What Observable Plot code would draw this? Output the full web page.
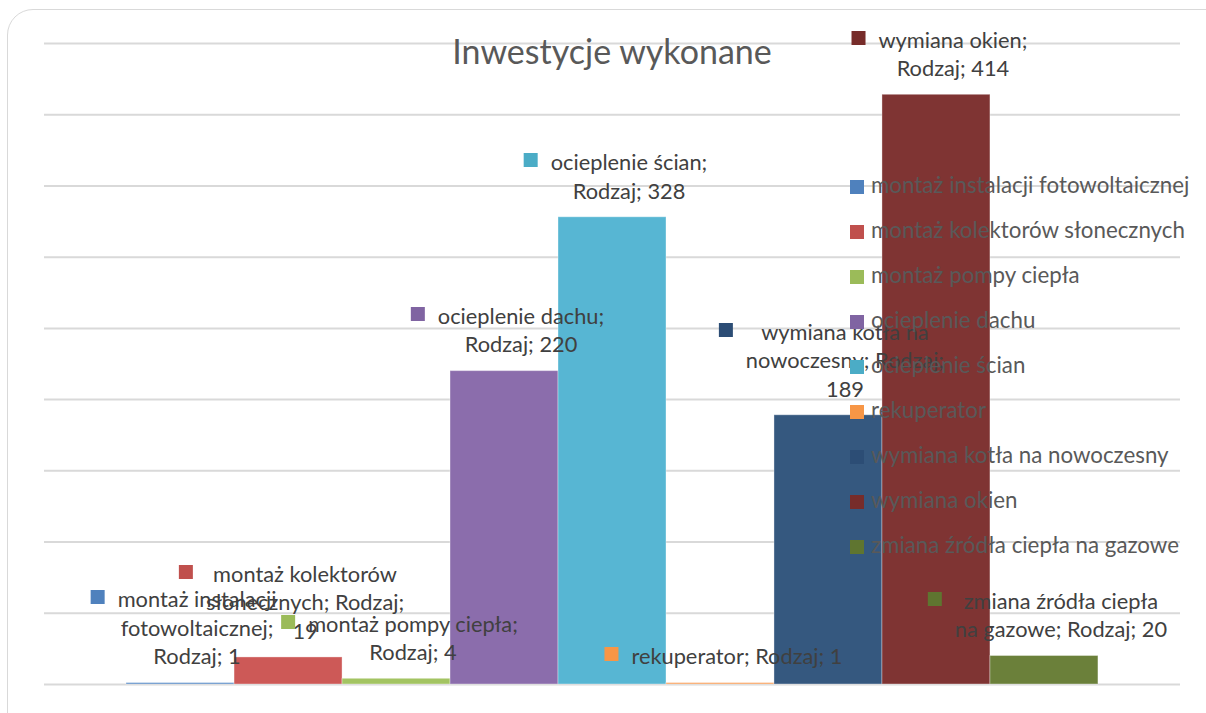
<!DOCTYPE html>
<html><head><meta charset="utf-8">
<script src="https://cdn.jsdelivr.net/npm/d3@7"></script>
<script src="https://cdn.jsdelivr.net/npm/@observablehq/plot@0.6"></script>
<style>
body{margin:0;background:#fff;}
#wrap{position:relative;width:1206px;height:713px;overflow:hidden;font-family:Lato,"Noto Sans",sans-serif;}
#wrap svg{position:absolute;left:0;top:0;}
#border{position:absolute;left:7px;top:9px;width:1240px;height:740px;border:1.5px solid #d9d9d9;border-radius:26px;box-sizing:border-box;pointer-events:none;}
#title{position:absolute;left:0;width:1224px;top:30px;text-align:center;font-size:34px;color:#595959;}
.lbl{position:absolute;transform:translateX(-50%);text-align:center;font-size:21.8px;line-height:28.5px;color:#404040;white-space:nowrap;}
.lbl .mk{position:absolute;width:14px;height:14px;left:-27px;top:5px;}
.leg{position:absolute;left:850px;font-size:22.3px;color:#595959;white-space:nowrap;line-height:24px;}
.leg .mk{display:inline-block;width:14px;height:14px;margin-right:7px;vertical-align:-1px;}
</style>
</head><body>
<div id="wrap"></div>
<script>
const category = "Rodzaj";
const chartTitle = "Inwestycje wykonane";
const series = [
  "montaż instalacji fotowoltaicznej",
  "montaż kolektorów słonecznych",
  "montaż pompy ciepła",
  "ocieplenie dachu",
  "ocieplenie ścian",
  "rekuperator",
  "wymiana kotła na nowoczesny",
  "wymiana okien",
  "zmiana źródła ciepła na gazowe"
];
const values = [1, 19, 4, 220, 328, 1, 189, 414, 20];
const barColors = ["#5b8cc7","#cd5957","#a3c462","#8b6dac","#57b6d3","#f9a05c","#35587f","#7f3433","#6b803a"];
const markerColors = ["#4f81bd","#c0504d","#9bbb59","#8064a2","#4bacc6","#f79646","#2c4d75","#772c2a","#5f7530"];
const yTicks = d3.range(0, 451, 50);
// words per wrapped line of each data label
const labelWrap = [[2,1,2],[2,2,1],[3,2],[2,2],[2,2],[5],[3,2,1],[2,2],[3,4]];

const data = series.map((s, i) => ({series: s, value: values[i]}));

const plot = Plot.plot({
  width: 1206, height: 713,
  marginLeft: 44, marginRight: 26, marginTop: 43, marginBottom: 29,
  x: {domain: series, paddingInner: 0, paddingOuter: 0.76, round: false, axis: null},
  y: {domain: [0, 450], axis: null},
  color: {domain: series, range: barColors},
  style: {background: "transparent", overflow: "visible"},
  marks: [
    Plot.ruleY(yTicks, {stroke: "#d9d9d9", strokeWidth: 2}),
    Plot.barY(data, {x: "series", y: "value", fill: "series", inset: 0, stroke: "#ffffff", strokeOpacity: 0.35, strokeWidth: 1})
  ]
});
const wrap = document.getElementById("wrap");
wrap.appendChild(plot);

const bd = document.createElement("div"); bd.id = "border"; wrap.appendChild(bd);
const t = document.createElement("div"); t.id = "title"; t.textContent = chartTitle; wrap.appendChild(t);

const xs = plot.scale("x"), ys = plot.scale("y");
data.forEach((d, i) => {
  const cx = xs.apply(d.series) + xs.bandwidth / 2 + 17;
  const top = ys.apply(d.value);
  const words = `${d.series}; ${category}; ${d.value}`.split(" ");
  const lines = []; let k = 0;
  for (const n of labelWrap[i]) { lines.push(words.slice(k, k + n).join(" ")); k += n; }
  const div = document.createElement("div");
  div.className = "lbl";
  div.style.left = cx + "px";
  div.style.bottom = (713 - (top - 26 + 14.25)) + "px";
  const mk = document.createElement("span"); mk.className = "mk"; mk.style.background = markerColors[i];
  div.appendChild(mk);
  lines.forEach((l, j) => { if (j) div.appendChild(document.createElement("br")); div.appendChild(document.createTextNode(l)); });
  wrap.appendChild(div);
});

series.forEach((s, i) => {
  const it = document.createElement("div");
  it.className = "leg";
  it.style.top = (185 + 45.05 * i - 12) + "px";
  const mk = document.createElement("span"); mk.className = "mk"; mk.style.background = markerColors[i];
  it.appendChild(mk);
  it.appendChild(document.createTextNode(s));
  wrap.appendChild(it);
});
</script>
</body></html>
